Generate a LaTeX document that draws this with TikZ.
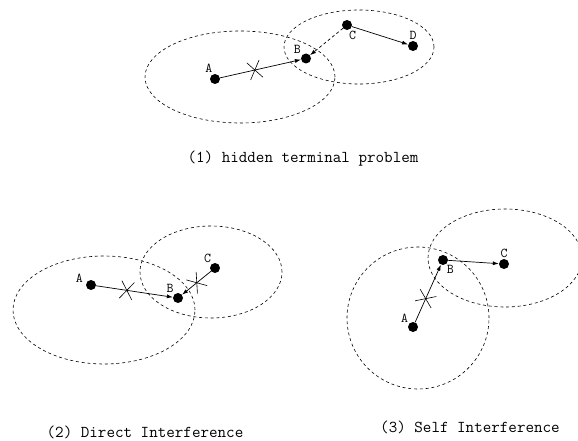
\documentclass[tikz,border=0pt]{standalone}
\usepackage{fontspec}
\usetikzlibrary{positioning,arrows.meta,shapes.misc}

\tikzset{
  station/.style={circle, fill=black, inner sep=0pt, minimum size=10pt},
  reach/.style={draw, dash pattern=on 3pt off 2.8pt, line width=0.6pt},
  link/.style={-{Latex[length=6pt,width=4pt]}, line width=0.7pt},
  jam/.style={draw, cross out, sloped, minimum width=12pt, minimum height=17pt,
    inner sep=0pt, line width=0.6pt},
  panelcap/.style={font=\fontsize{16.6}{18}\selectfont\ttfamily, anchor=base},
}

\begin{document}
\begin{tikzpicture}[x=1pt, y=-1pt,
  every label/.style={font=\fontsize{13.5}{15}\selectfont\ttfamily, inner sep=1pt},
  label distance=0pt]
  \useasboundingbox (0,0) rectangle (578,441);

  % (1) hidden terminal
  \draw[reach] (240,77) ellipse [x radius=95pt, y radius=46pt];
  \draw[reach] (359,47) ellipse [x radius=75pt, y radius=37pt];
  \node[station, label={107:A}] (a1) at (215,79) {};
  \node[station, label={140:B}] (b1) at (306,58.5) {};
  \node[station, label={-80:C}] (c1) at (347,25) {};
  \node[station, label={90:D}] (d1) at (413,46) {};
  \draw[link] (a1) -- node[jam, pos=0.43] {} (b1);
  \draw[link, dash pattern=on 3pt off 2.5pt] (c1) -- (b1);
  \draw[link] (c1) -- (d1);
  \node[panelcap] (cap1) at (303,162) {(1) hidden terminal problem};

  % (2) direct interference
  \draw[reach] (104,310) ellipse [x radius=91pt, y radius=54pt];
  \draw[reach] (211,272) ellipse [x radius=71pt, y radius=46pt];
  \node[station, label={[label distance=2pt]166:A}] (a2) at (91,285) {};
  \node[station, label={130:B}] (b2) at (178,298) {};
  \node[station, label={122:C}] (c2) at (215,268) {};
  \draw[link] (a2) -- node[jam, pos=0.40] {} (b2);
  \draw[link] (c2) -- node[jam, pos=0.49] {} (b2);
  \node[panelcap] (cap2) at (145,437) {(2) Direct Interference};

  % (3) self interference
  \draw[reach] (418,318) circle [radius=71pt];
  \draw[reach] (505,258) ellipse [x radius=77pt, y radius=49pt];
  \node[station, label={137:A}] (a3) at (413,327) {};
  \node[station, label={-58:B}] (b3) at (443,260) {};
  \node[station, label={90:C}] (c3) at (504,264) {};
  \draw[link] (a3) -- node[jam, pos=0.41] {} (b3);
  \draw[link] (b3) -- (c3);
  \node[panelcap] (cap3) at (470,432) {(3) Self Interference};
\end{tikzpicture}
\end{document}
